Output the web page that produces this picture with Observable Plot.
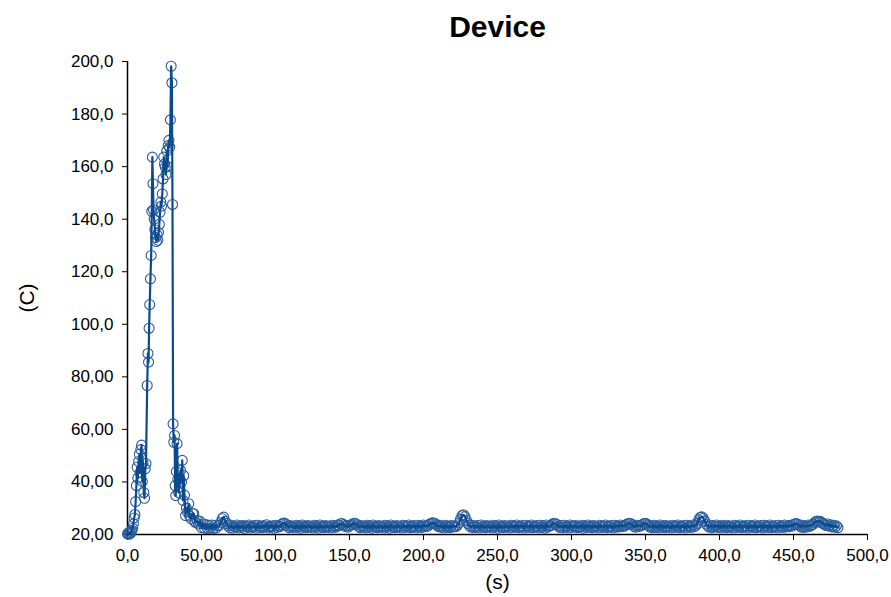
<!DOCTYPE html>
<html>
<head>
<meta charset="utf-8">
<script src="https://cdn.jsdelivr.net/npm/d3@7"></script>
<script src="https://cdn.jsdelivr.net/npm/@observablehq/plot@0.6"></script>
<style>
  html, body { margin: 0; padding: 0; background: #fff; }
  #chart { width: 891px; height: 597px; }
</style>
</head>
<body>
<div id="chart"></div>
<script>
const title = "Device";
const xTitle = "(s)";
const yTitle = "(C)";

const xTicks = [0, 50, 100, 150, 200, 250, 300, 350, 400, 450, 500];
const xTickLabels = ["0,0", "50,00", "100,0", "150,0", "200,0", "250,0", "300,0", "350,0", "400,0", "450,0", "500,0"];
const yTicks = [20, 40, 60, 80, 100, 120, 140, 160, 180, 200];
const yTickLabels = ["20,00", "40,00", "60,00", "80,00", "100,0", "120,0", "140,0", "160,0", "180,0", "200,0"];

// early part (irregular sampling) : time (s) and temperature (C)
const peakTime = [0, 0.5, 1, 1.5, 2, 2.5, 3, 3.5, 4, 4.5, 5, 5.5, 6, 6.5, 7, 7.5, 8, 8.5, 9, 9.5,
  10, 10.5, 11, 11.5, 12, 12.5, 13.3, 13.8, 14.2, 14.6, 15.0, 15.5, 16.0, 16.4, 16.8, 17.2, 17.6, 18.0, 18.5, 19.0,
  19.5, 20.0, 20.5, 21.0, 21.5, 22.0, 22.5, 23.0, 23.5, 24.0, 24.5, 25.0, 25.5, 26.0, 26.5, 27.0, 27.5, 28.0, 28.5, 29.0,
  29.5, 30.0, 30.4, 30.8, 31.3, 31.8, 32.2, 32.6, 33.0, 33.5, 34.0, 34.5, 35.0, 35.8, 36.5, 37.0, 37.5, 38.0, 38.5, 39.2,
  39.8, 40.5, 41.4, 42, 43, 44, 44.8, 45.5, 46, 47.1, 48, 49, 50, 51, 52, 53, 54, 55, 56, 57,
  58, 59, 60, 61, 62, 63, 64, 65, 66];
const peakTemp = [20.2, 20.6, 20.1, 20.9, 20.4, 21.2, 21.6, 22.4, 24.0, 26.3, 27.6, 32.5, 38.6, 45.6, 41.5, 47.8, 50.5, 43.5, 52.3, 54.0,
  40.2, 47.2, 36.0, 33.8, 45.0, 47.0, 76.7, 88.9, 85.6, 98.5, 107.5, 117.3, 126.2, 143.0, 163.6, 153.5, 143.5, 140.0, 136.0, 133.0,
  131.5, 134.0, 132.0, 135.0, 138.0, 142.6, 146.5, 145.0, 149.6, 155.3, 163.6, 161.0, 159.8, 157.0, 166.0, 160.0, 168.0, 170.0, 167.4, 177.8,
  198.2, 191.9, 145.6, 62.1, 55.1, 57.7, 38.6, 34.8, 44.0, 54.6, 41.0, 36.0, 38.0, 44.4, 40.0, 48.2, 33.0, 42.4, 35.0, 27.2,
  30.0, 28.5, 31.7, 27.0, 26.0, 28.0, 27.9, 25.0, 24.5, 25.3, 24.0, 25.0, 22.6, 24.0, 22.4, 23.8, 22.3, 23.5, 22.4, 23.6,
  22.3, 23.5, 22.5, 23.4, 23.5, 24.5, 26.0, 26.6, 25.0];

// later part, sampled every 1 s from 67 s to 480 s
const tailStart = 67;
const tailStep = 1;
const tailTemp = [
  24.2, 23.4, 22.6, 23.5, 22.4, 23.1, 22.8, 23.6, 22.5, 23.3, 22.7, 23.4, 22.3, 23.2, 22.9, 23.6, 22.5, 23.1, 22.8, 23.4,
  22.4, 23.5, 22.7, 23.2, 22.6, 23.4, 22.9, 23.7, 22.5, 23.1, 22.8, 23.3, 22.4, 23.5, 22.7, 23.2, 23.0, 23.8, 24.3, 24.4,
  23.9, 23.3, 22.6, 23.4, 22.8, 23.1, 22.5, 23.5, 22.7, 23.3, 22.4, 23.6, 22.8, 23.2, 22.6, 23.4, 22.9, 23.1, 22.5, 23.5,
  22.7, 23.3, 22.4, 23.6, 22.8, 23.2, 22.6, 23.4, 22.9, 23.1, 22.5, 23.5, 22.7, 23.3, 22.8, 23.6, 23.4, 24.1, 24.2, 23.7,
  23.1, 23.4, 22.8, 23.3, 23.6, 24.0, 24.3, 24.2, 23.7, 23.1, 22.6, 23.4, 22.8, 23.2, 22.5, 23.5, 22.7, 23.3, 22.4, 23.6,
  22.8, 23.2, 22.6, 23.4, 22.9, 23.1, 22.5, 23.5, 22.7, 23.3, 22.4, 23.6, 22.8, 23.2, 22.6, 23.4, 22.9, 23.1, 22.5, 23.5,
  22.7, 23.3, 22.8, 23.6, 22.6, 23.2, 22.9, 23.4, 22.5, 23.5, 22.8, 23.3, 22.7, 23.6, 23.0, 23.4, 23.2, 23.9, 24.2, 24.5,
  24.4, 24.1, 23.6, 23.0, 23.4, 22.7, 23.3, 22.5, 23.5, 22.8, 23.2, 22.6, 23.4, 22.9, 23.1, 23.0, 23.6, 24.4, 25.8, 27.2,
  27.5, 26.8, 25.4, 24.2, 23.4, 22.8, 23.5, 22.6, 23.3, 22.7, 23.4, 22.5, 23.6, 22.8, 23.2, 22.6, 23.4, 22.9, 23.1, 22.5,
  23.5, 22.7, 23.3, 22.4, 23.6, 22.8, 23.2, 22.6, 23.4, 22.9, 23.1, 22.5, 23.5, 22.7, 23.3, 22.8, 23.6, 22.6, 23.2, 22.9,
  23.4, 22.5, 23.5, 22.8, 23.3, 22.7, 23.6, 22.6, 23.2, 22.9, 23.4, 22.5, 23.5, 22.7, 23.3, 22.4, 23.6, 22.8, 23.2, 23.4,
  23.9, 24.3, 24.2, 23.8, 23.2, 22.7, 23.4, 22.6, 23.5, 22.8, 23.2, 22.5, 23.6, 22.7, 23.3, 22.9, 23.4, 22.6, 23.1, 22.8,
  23.5, 22.4, 23.3, 22.7, 23.6, 22.8, 23.2, 22.6, 23.4, 22.9, 23.1, 22.5, 23.5, 22.7, 23.3, 22.8, 23.6, 22.6, 23.2, 22.9,
  23.4, 22.5, 23.5, 22.8, 23.3, 22.9, 23.6, 23.0, 23.4, 23.2, 23.8, 24.1, 24.3, 24.2, 23.7, 23.2, 22.8, 23.5, 23.0, 23.4,
  23.3, 23.8, 24.2, 24.3, 23.9, 23.4, 22.8, 23.3, 22.6, 23.5, 22.7, 23.2, 22.5, 23.6, 22.8, 23.3, 22.6, 23.4, 22.9, 23.1,
  22.5, 23.5, 22.7, 23.3, 22.8, 23.6, 22.6, 23.2, 22.9, 23.4, 22.5, 23.5, 22.8, 23.3, 22.7, 23.6, 23.0, 23.4, 24.2, 25.6,
  26.5, 26.7, 26.2, 25.1, 24.0, 23.3, 22.8, 23.5, 22.6, 23.4, 22.9, 23.6, 22.7, 23.2, 22.5, 23.5, 22.8, 23.3, 22.6, 23.4,
  22.9, 23.1, 22.5, 23.5, 22.7, 23.3, 22.8, 23.6, 22.6, 23.2, 22.9, 23.4, 22.5, 23.5, 22.8, 23.3, 22.7, 23.6, 22.6, 23.2,
  22.9, 23.4, 22.5, 23.5, 22.8, 23.3, 22.7, 23.6, 22.6, 23.2, 22.9, 23.4, 22.5, 23.5, 22.8, 23.3, 22.7, 23.6, 22.9, 23.4,
  23.0, 23.5, 23.2, 23.8, 24.1, 24.2, 23.9, 23.4, 22.8, 23.5, 22.7, 23.3, 22.9, 23.6, 23.1, 23.5, 23.8, 24.4, 24.9, 25.1,
  24.8, 25.0, 24.6, 24.2, 23.8, 23.4, 24.0, 23.2, 23.7, 22.9, 23.5, 22.8, 23.3, 22.6
];

const data = [
  ...peakTime.map((t, i) => ({t, v: peakTemp[i]})),
  ...tailTemp.map((v, i) => ({t: tailStart + i * tailStep, v}))
];

const xLab = new Map(xTicks.map((d, i) => [d, xTickLabels[i]]));
const yLab = new Map(yTicks.map((d, i) => [d, yTickLabels[i]]));

const lineColor = "#0b4a8d";
const dotColor = "#2a5d9c";

const chart = Plot.plot({
  width: 891,
  height: 597,
  marginTop: 61,
  marginBottom: 63,
  marginLeft: 127,
  marginRight: 24,
  x: {domain: [0, 500]},
  y: {domain: [20, 200]},
  style: {fontFamily: "'Liberation Sans', Arial, sans-serif", fontSize: "17px", color: "#000", background: "#fff"},
  marks: [
    Plot.axisY(yTicks, {tickFormat: d => yLab.get(d), tickSize: 5, tickPadding: 9, fontSize: 17, label: null}),
    Plot.axisX(xTicks, {tickFormat: d => xLab.get(d), tickSize: 6, tickPadding: 8, fontSize: 17, label: null}),
    Plot.ruleX([0], {stroke: "#000", strokeWidth: 1.5}),
    Plot.ruleY([20], {stroke: "#000", strokeWidth: 1.5}),
    Plot.dot(data, {x: "t", y: "v", r: 5, stroke: dotColor, strokeWidth: 1.1, fill: "none"}),
    Plot.line(data, {x: "t", y: "v", stroke: lineColor, strokeWidth: 2.2}),
    Plot.text([yTitle], {frameAnchor: "left", dx: -100, rotate: -90, textAnchor: "middle", lineAnchor: "middle", fontSize: 21}),
    Plot.text([xTitle], {frameAnchor: "bottom", dy: 48, textAnchor: "middle", lineAnchor: "middle", fontSize: 21}),
    Plot.text([title], {frameAnchor: "top", dy: -34, textAnchor: "middle", lineAnchor: "middle", fontSize: 30, fontWeight: "bold"})
  ]
});
document.getElementById("chart").appendChild(chart);
</script>
</body>
</html>
